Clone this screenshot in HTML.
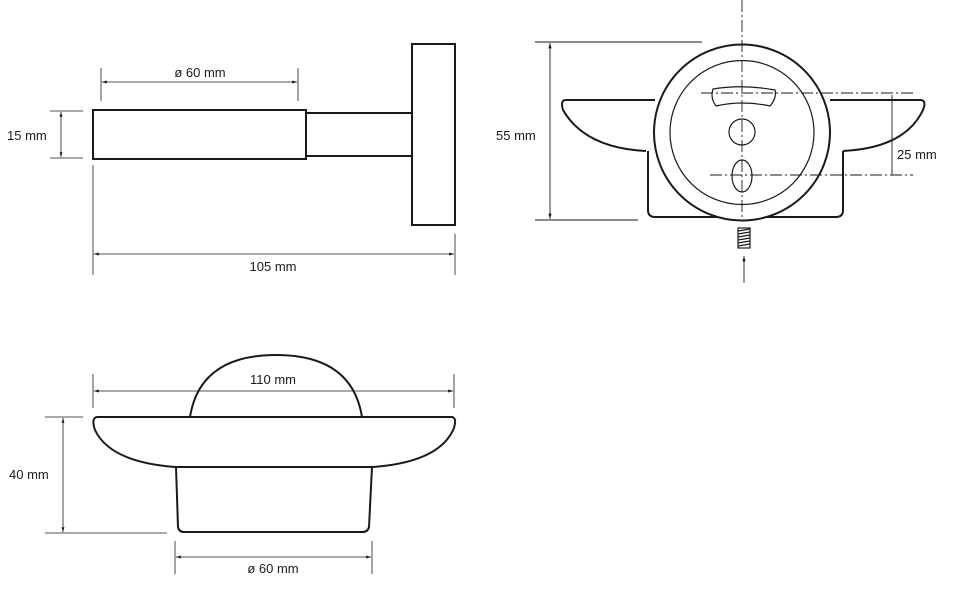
<!DOCTYPE html>
<html><head><style>html,body{margin:0;padding:0;background:#fff;}svg{display:block}</style></head>
<body>
<svg width="967" height="594" viewBox="0 0 967 594" xmlns="http://www.w3.org/2000/svg" font-family="Liberation Sans, sans-serif" font-size="13" fill="none" stroke="#1a1a1a">
<defs>
<marker id="a" viewBox="0 0 10 10" refX="10" refY="5" markerWidth="6" markerHeight="6" orient="auto-start-reverse"><path d="M0,2 L10,5 L0,8 z" fill="#1a1a1a" stroke="none"/></marker>
</defs>
<!-- Top-left side view -->
<g stroke-width="2">
<rect x="93" y="110" width="213" height="49"/>
<rect x="306" y="113" width="106" height="43"/>
<rect x="412" y="44" width="43" height="181"/>
</g>
<g stroke-width="0.8">
<line x1="101" y1="68" x2="101" y2="101"/><line x1="298" y1="68" x2="298" y2="101"/>
<line x1="102" y1="82" x2="297" y2="82" marker-start="url(#a)" marker-end="url(#a)"/>
<line x1="50" y1="111" x2="83" y2="111"/><line x1="50" y1="158" x2="83" y2="158"/>
<line x1="61" y1="112" x2="61" y2="157" marker-start="url(#a)" marker-end="url(#a)"/>
<line x1="93" y1="165" x2="93" y2="275"/><line x1="455" y1="234" x2="455" y2="275"/>
<line x1="94" y1="254" x2="454" y2="254" marker-start="url(#a)" marker-end="url(#a)"/>
</g>
<g fill="#1a1a1a" stroke="none">
<text x="200" y="77" text-anchor="middle">ø 60 mm</text>
<text x="7" y="140">15 mm</text>
<text x="273" y="271" text-anchor="middle">105 mm</text>
</g>

<!-- Top-right front view -->
<g stroke-width="2">
<path d="M648,151 L648,210 Q648,217 655,217 L836,217 Q843,217 843,210 L843,151"/>
<path d="M655,100 L566,100 Q560,100 563,110 Q585,148 646,151"/>
<path d="M830,100 L920,100 Q927,100 923,110 Q905,148 843,151"/>
<circle cx="742" cy="132.5" r="88" fill="#fff"/>
</g>
<g stroke-width="1.2">
<circle cx="742" cy="132.5" r="72"/>
<path d="M713,89 Q742,84 775,90 Q777,98 770,106 Q742,100 716,106 Q710,98 713,89 z"/>
<circle cx="742" cy="132" r="13"/>
<ellipse cx="742" cy="176" rx="10" ry="16"/>
<rect x="738" y="228" width="12" height="20"/>
<path d="M738,231 L750,229 M738,234 L750,232 M738,237 L750,235 M738,240 L750,238 M738,243 L750,241 M738,246 L750,244"/>
</g>
<g stroke-width="0.9">
<line x1="742" y1="0" x2="742" y2="220" stroke-dasharray="12,3,2,3"/>
<line x1="701" y1="93" x2="913" y2="93" stroke-dasharray="12,3,2,3"/>
<line x1="710" y1="175" x2="913" y2="175" stroke-dasharray="12,3,2,3"/>
<line x1="892" y1="95" x2="892" y2="175"/>
<line x1="535" y1="42" x2="702" y2="42"/><line x1="535" y1="220" x2="638" y2="220"/>
<line x1="550" y1="43" x2="550" y2="219" marker-start="url(#a)" marker-end="url(#a)"/>
<line x1="744" y1="283" x2="744" y2="256" marker-end="url(#a)"/>
</g>
<g fill="#1a1a1a" stroke="none">
<text x="496" y="140">55 mm</text>
<text x="897" y="159">25 mm</text>
</g>

<!-- Bottom view -->
<g stroke-width="2">
<path d="M190,417 Q200,355 276,355 Q352,355 362,417" fill="#fff"/>
<path d="M97,417 L452,417 Q457,418 454,428 Q440,462 373,467 L175,467 Q110,462 95,430 Q91,418 97,417 z" fill="#fff"/>
<path d="M176,467 L178,527 Q179,532 184,532 L362,532 Q368,532 369,527 L372,467"/>
</g>
<g stroke-width="0.8">
<line x1="93" y1="374" x2="93" y2="408"/><line x1="454" y1="374" x2="454" y2="408"/>
<line x1="94" y1="391" x2="453" y2="391" marker-start="url(#a)" marker-end="url(#a)"/>
<line x1="45" y1="417" x2="83" y2="417"/><line x1="45" y1="533" x2="167" y2="533"/>
<line x1="63" y1="418" x2="63" y2="532" marker-start="url(#a)" marker-end="url(#a)"/>
<line x1="175" y1="541" x2="175" y2="574"/><line x1="372" y1="541" x2="372" y2="574"/>
<line x1="176" y1="557" x2="371" y2="557" marker-start="url(#a)" marker-end="url(#a)"/>
</g>
<g fill="#1a1a1a" stroke="none">
<text x="273" y="384" text-anchor="middle">110 mm</text>
<text x="9" y="479">40 mm</text>
<text x="273" y="573" text-anchor="middle">ø 60 mm</text>
</g>
</svg>
</body></html>
